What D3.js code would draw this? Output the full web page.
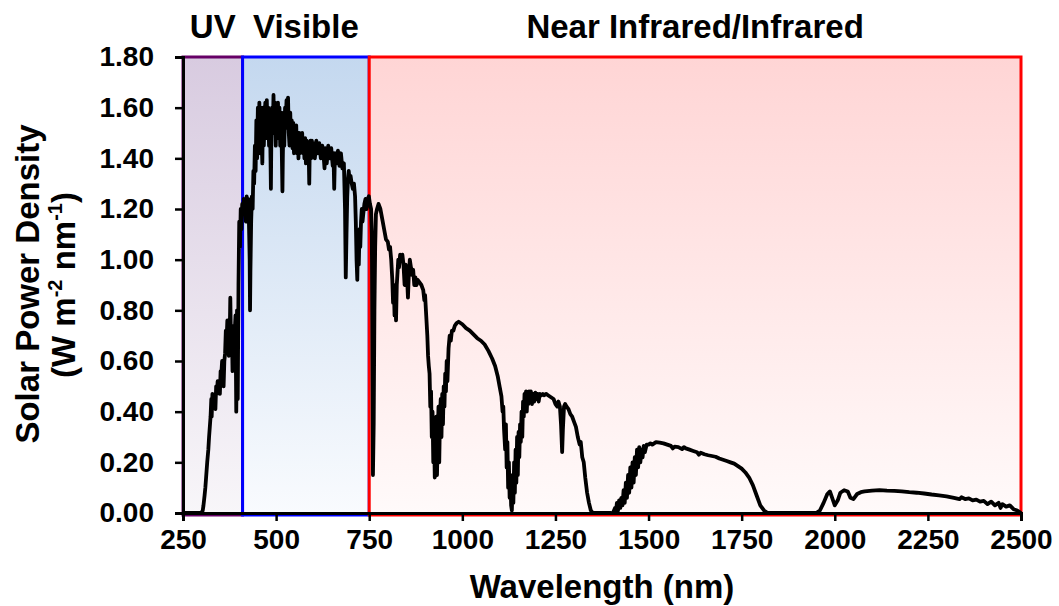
<!DOCTYPE html>
<html>
<head>
<meta charset="utf-8">
<script src="https://cdn.jsdelivr.net/npm/d3@7"></script>
<style>
  body { margin: 0; background: #fff; }
  text { font-family: "Liberation Sans", Arial, sans-serif; font-weight: bold; fill: #000; }
</style>
</head>
<body>
<div id="chart"></div>
<script>
// spectrum regions
var regionNames = ["UV", "Visible", "Near Infrared/Infrared"];
var regionStart = [250, 410, 750];
var regionEnd = [410, 750, 2500];

// axis ticks
var xTicks = [250, 500, 750, 1000, 1250, 1500, 1750, 2000, 2250, 2500];
var yTicks = [0, 0.2, 0.4, 0.6, 0.8, 1.0, 1.2, 1.4, 1.6, 1.8];

// solar spectrum (nm, W m-2 nm-1)
var wavelength = [
  250, 280, 295, 300, 303, 305, 308, 310, 312, 315, 318, 320, 322, 324, 326, 327, 329, 331, 333, 335,
  337, 339, 341, 343, 345, 347, 349, 351, 353, 355, 357, 359, 361, 363, 365, 367, 369, 371, 373, 375,
  377, 379, 381, 383, 385, 387, 389, 391, 393, 394, 395, 397, 399, 401, 403, 405, 407, 409, 411, 413,
  415, 417, 419, 421, 423, 425, 427, 429, 430, 431, 433, 435, 437, 439, 441, 443, 445, 447, 449, 451,
  453, 455, 457, 459, 461, 463, 465, 467, 469, 471, 473, 475, 477, 479, 481, 483, 485, 486, 487, 489,
  491, 493, 495, 497, 499, 501, 503, 505, 507, 509, 511, 513, 515, 517, 518, 520, 522, 524, 526, 528,
  530, 532, 534, 536, 538, 540, 542, 544, 546, 548, 550, 552, 554, 556, 558, 560, 562, 564, 566, 568,
  570, 572, 574, 576, 578, 580, 582, 584, 586, 588, 589, 590, 592, 594, 596, 598, 600, 604, 608, 612,
  616, 620, 624, 628, 630, 632, 636, 640, 644, 648, 652, 654, 656, 658, 662, 666, 670, 674, 678, 682,
  685, 687, 689, 691, 693, 695, 697, 700, 703, 706, 709, 712, 714, 716, 718, 720, 722, 724, 726, 728,
  730, 732, 734, 737, 740, 743, 746, 749, 752, 755, 757, 759, 760, 762, 764, 766, 768, 771, 775, 780,
  785, 790, 795, 800, 803, 806, 809, 812, 814, 816, 818, 820, 822, 824, 826, 828, 830, 833, 836, 839,
  842, 845, 848, 851, 854, 856, 859, 862, 865, 868, 871, 874, 877, 880, 885, 890, 895, 898, 900, 903,
  906, 908, 910, 912, 914, 916, 918, 920, 922, 924, 926, 928, 930, 932, 934, 936, 938, 940, 942, 944,
  946, 948, 950, 952, 954, 956, 958, 960, 963, 966, 969, 972, 976, 980, 985, 990, 995, 1000, 1010, 1020,
  1030, 1040, 1050, 1060, 1070, 1080, 1088, 1095, 1100, 1105, 1108, 1110, 1112, 1115, 1117, 1119, 1121, 1123, 1125, 1127,
  1129, 1131, 1133, 1135, 1137, 1139, 1141, 1143, 1145, 1147, 1149, 1151, 1153, 1155, 1157, 1159, 1161, 1163, 1165, 1167,
  1169, 1171, 1173, 1175, 1177, 1179, 1181, 1184, 1187, 1190, 1193, 1196, 1199, 1202, 1205, 1208, 1212, 1216, 1220, 1225,
  1230, 1235, 1240, 1245, 1250, 1255, 1258, 1262, 1265, 1268, 1270, 1273, 1276, 1280, 1285, 1290, 1295, 1300, 1305, 1310,
  1315, 1318, 1322, 1326, 1330, 1335, 1340, 1345, 1350, 1400, 1405, 1410, 1412, 1415, 1418, 1421, 1424, 1427, 1430, 1433,
  1436, 1439, 1442, 1445, 1448, 1451, 1454, 1457, 1460, 1463, 1466, 1469, 1472, 1475, 1478, 1481, 1484, 1487, 1490, 1495,
  1500, 1505, 1510, 1520, 1530, 1540, 1550, 1560, 1565, 1570, 1580, 1590, 1595, 1600, 1610, 1620, 1630, 1635, 1640, 1650,
  1660, 1670, 1680, 1690, 1700, 1710, 1720, 1730, 1740, 1750, 1760, 1770, 1780, 1790, 1800, 1810, 1820, 1950, 1960, 1970,
  1980, 1987, 1993, 2000, 2008, 2015, 2025, 2035, 2042, 2050, 2060, 2070, 2080, 2100, 2120, 2140, 2160, 2180, 2200, 2220,
  2240, 2260, 2280, 2300, 2320, 2335, 2340, 2350, 2360, 2370, 2380, 2390, 2400, 2410, 2420, 2430, 2440, 2445, 2450, 2460,
  2470, 2480, 2490, 2500
];
var irradiance = [
  0, 0, 0, 0.002, 0.01, 0.03, 0.07, 0.1, 0.14, 0.2, 0.25, 0.3, 0.34, 0.38, 0.45, 0.38, 0.47, 0.43, 0.46, 0.44,
  0.41, 0.5, 0.47, 0.52, 0.48, 0.51, 0.47, 0.56, 0.55, 0.6, 0.53, 0.5, 0.6, 0.63, 0.72, 0.68, 0.76, 0.7, 0.62, 0.66,
  0.85, 0.66, 0.74, 0.56, 0.65, 0.63, 0.72, 0.78, 0.4, 0.55, 0.8, 0.45, 0.9, 1.15, 1.05, 1.2, 1.12, 1.22, 1.18, 1.24,
  1.2, 1.22, 1.15, 1.25, 1.2, 1.24, 1.15, 1.0, 0.8, 0.95, 1.15, 1.25, 1.2, 1.35, 1.3, 1.45, 1.35, 1.55, 1.4, 1.6,
  1.45, 1.62, 1.42, 1.6, 1.5, 1.38, 1.6, 1.45, 1.55, 1.62, 1.48, 1.63, 1.5, 1.6, 1.45, 1.58, 1.4, 1.28, 1.45, 1.6,
  1.5, 1.65, 1.5, 1.62, 1.45, 1.6, 1.48, 1.62, 1.5, 1.6, 1.45, 1.58, 1.45, 1.27, 1.4, 1.58, 1.45, 1.6, 1.55, 1.63,
  1.52, 1.64, 1.5, 1.45, 1.58, 1.46, 1.55, 1.44, 1.54, 1.42, 1.52, 1.45, 1.53, 1.42, 1.5, 1.4, 1.5, 1.42, 1.49, 1.43,
  1.5, 1.42, 1.47, 1.4, 1.48, 1.38, 1.47, 1.42, 1.46, 1.38, 1.3, 1.4, 1.47, 1.4, 1.47, 1.42, 1.46, 1.4, 1.47, 1.42,
  1.46, 1.4, 1.45, 1.4, 1.36, 1.44, 1.38, 1.45, 1.4, 1.44, 1.37, 1.42, 1.28, 1.42, 1.38, 1.43, 1.37, 1.42, 1.36, 1.38,
  1.2, 0.93, 1.1, 1.25, 1.32, 1.35, 1.32, 1.33, 1.3, 1.28, 1.3, 1.25, 1.15, 1.0, 0.92, 1.1, 0.98, 1.12, 1.05, 1.15,
  1.2, 1.15, 1.18, 1.22, 1.24, 1.2, 1.24, 1.25, 1.22, 1.2, 1.1, 0.5, 0.15, 0.35, 0.8, 1.05, 1.18, 1.2, 1.22, 1.2,
  1.16, 1.12, 1.08, 1.07, 1.04, 1.05, 1.0, 0.92, 0.83, 0.9, 0.78, 0.85, 0.76, 0.9, 0.95, 1.0, 0.97, 1.02, 1.0, 1.02,
  0.98, 0.9, 0.98, 0.95, 0.85, 0.93, 1.0, 0.97, 0.94, 0.96, 0.9, 0.93, 0.9, 0.92, 0.91, 0.9, 0.88, 0.84, 0.86, 0.78,
  0.7, 0.62, 0.58, 0.55, 0.42, 0.48, 0.3, 0.4, 0.2, 0.32, 0.14, 0.25, 0.38, 0.15, 0.3, 0.42, 0.2, 0.38, 0.45, 0.3,
  0.47, 0.35, 0.5, 0.42, 0.55, 0.48, 0.6, 0.52, 0.65, 0.7, 0.68, 0.72, 0.72, 0.74, 0.75, 0.755, 0.75, 0.745, 0.73, 0.72,
  0.705, 0.69, 0.68, 0.665, 0.64, 0.61, 0.58, 0.54, 0.5, 0.46, 0.4, 0.42, 0.33, 0.25, 0.35, 0.18, 0.28, 0.1, 0.2, 0.06,
  0.15, 0.03, 0.01, 0.12, 0.04, 0.2, 0.08, 0.25, 0.12, 0.3, 0.15, 0.32, 0.22, 0.35, 0.28, 0.4, 0.3, 0.44, 0.38, 0.47,
  0.42, 0.48, 0.4, 0.47, 0.43, 0.48, 0.44, 0.48, 0.43, 0.47, 0.44, 0.475, 0.45, 0.47, 0.44, 0.47, 0.465, 0.47, 0.465, 0.47,
  0.465, 0.46, 0.455, 0.45, 0.43, 0.42, 0.44, 0.42, 0.35, 0.24, 0.33, 0.42, 0.43, 0.42, 0.41, 0.39, 0.38, 0.36, 0.34, 0.3,
  0.27, 0.28, 0.22, 0.2, 0.14, 0.08, 0.04, 0.01, 0, 0, 0.002, 0.02, 0.0, 0.04, 0.01, 0.05, 0.02, 0.06, 0.03, 0.09,
  0.04, 0.12, 0.06, 0.15, 0.08, 0.18, 0.1, 0.2, 0.12, 0.22, 0.15, 0.25, 0.18, 0.26, 0.2, 0.25, 0.22, 0.265, 0.24, 0.27,
  0.27, 0.275, 0.27, 0.28, 0.278, 0.275, 0.27, 0.265, 0.255, 0.262, 0.26, 0.252, 0.26, 0.255, 0.25, 0.245, 0.24, 0.23, 0.238, 0.232,
  0.228, 0.225, 0.222, 0.215, 0.21, 0.205, 0.2, 0.195, 0.185, 0.175, 0.16, 0.14, 0.11, 0.07, 0.03, 0.01, 0, 0, 0.01, 0.04,
  0.075, 0.085, 0.06, 0.03, 0.05, 0.08, 0.09, 0.085, 0.06, 0.055, 0.075, 0.082, 0.085, 0.088, 0.09, 0.088, 0.087, 0.085, 0.082, 0.08,
  0.077, 0.073, 0.07, 0.066, 0.06, 0.055, 0.062, 0.055, 0.058, 0.05, 0.053, 0.045, 0.048, 0.035, 0.045, 0.03, 0.04, 0.02, 0.035, 0.025,
  0.03, 0.015, 0.01, 0
];

var regionColors = [
  {stroke: "#660066", top: "#d8cbe0", bottom: "#f8f6f9"},
  {stroke: "#0000ff", top: "#c4d8ef", bottom: "#f9fbfe"},
  {stroke: "#ff0000", top: "#ffd5d5", bottom: "#fffafa"}
];

var margin = {top: 57, right: 38, bottom: 93, left: 183},
    width = 1059 - margin.left - margin.right,
    height = 606 - margin.top - margin.bottom;

var svg = d3.select("#chart").append("svg")
    .attr("width", 1059)
    .attr("height", 606);

var defs = svg.append("defs");
regionColors.forEach(function(c, i) {
  var g = defs.append("linearGradient")
    .attr("id", "grad" + i)
    .attr("x1", 0).attr("y1", 0).attr("x2", 0).attr("y2", 1);
  g.append("stop").attr("offset", "0%").attr("stop-color", c.top);
  g.append("stop").attr("offset", "100%").attr("stop-color", c.bottom);
});

var g = svg.append("g")
    .attr("transform", "translate(" + margin.left + "," + margin.top + ")");

var x = d3.scaleLinear().domain([250, 2500]).range([0, width]);
var y = d3.scaleLinear().domain([0, 1.8]).range([height, 0]);

// coloured region boxes
g.selectAll(".region")
  .data(regionNames)
  .enter().append("rect")
  .attr("class", "region")
  .attr("x", function(d, i) { return x(regionStart[i]); })
  .attr("y", y(1.8))
  .attr("width", function(d, i) { return x(regionEnd[i]) - x(regionStart[i]); })
  .attr("height", height + 2)
  .style("fill", function(d, i) { return "url(#grad" + i + ")"; })
  .style("stroke", function(d, i) { return regionColors[i].stroke; })
  .style("stroke-width", 3);

// region labels above the plot
g.selectAll(".regionLabel")
  .data(regionNames)
  .enter().append("text")
  .attr("class", "regionLabel")
  .attr("x", function(d, i) { return (x(regionStart[i]) + x(regionEnd[i])) / 2; })
  .attr("y", -19)
  .attr("text-anchor", "middle")
  .style("font-size", "33px")
  .text(function(d) { return d; });

// spectrum line
var line = d3.line()
  .x(function(d, i) { return x(wavelength[i]); })
  .y(function(d) { return y(d); });

g.append("path")
  .datum(irradiance)
  .attr("d", line)
  .style("fill", "none")
  .style("stroke", "#000")
  .style("stroke-width", 3.8)
  .style("stroke-linejoin", "round");

// axes
var xAxis = g.append("g")
  .attr("transform", "translate(0," + height + ")")
  .call(d3.axisBottom(x).tickValues(xTicks).tickFormat(d3.format("d"))
    .tickSizeOuter(0).tickSize(8).tickPadding(8));
var yAxis = g.append("g")
  .call(d3.axisLeft(y).tickValues(yTicks).tickFormat(d3.format(".2f"))
    .tickSizeOuter(0).tickSize(8).tickPadding(21));

[xAxis, yAxis].forEach(function(a) {
  a.select(".domain").style("stroke", "#000").style("stroke-width", 3);
  a.selectAll(".tick line").style("stroke", "#000").style("stroke-width", 2.5);
  a.selectAll(".tick text")
    .style("font-family", "'Liberation Sans', Arial, sans-serif")
    .style("font-weight", "bold")
    .style("font-size", "28px")
    .style("fill", "#000");
});

// axis titles
svg.append("text")
  .attr("x", margin.left + width / 2)
  .attr("y", 598)
  .attr("text-anchor", "middle")
  .style("font-size", "33px")
  .text("Wavelength (nm)");

var yt = svg.append("text")
  .attr("transform", "translate(39,284) rotate(-90)")
  .attr("text-anchor", "middle")
  .style("font-size", "33px");
yt.append("tspan").attr("x", 0).attr("y", 0).text("Solar Power Density");
var l2 = svg.append("text")
  .attr("transform", "translate(75,285) rotate(-90)")
  .attr("text-anchor", "middle")
  .style("font-size", "33px");
l2.append("tspan").text("(W m");
l2.append("tspan").attr("dy", -13).style("font-size", "20px").text("-2");
l2.append("tspan").attr("dy", 13).text(" nm");
l2.append("tspan").attr("dy", -13).style("font-size", "20px").text("-1");
l2.append("tspan").attr("dy", 13).text(")");
</script>
</body>
</html>
